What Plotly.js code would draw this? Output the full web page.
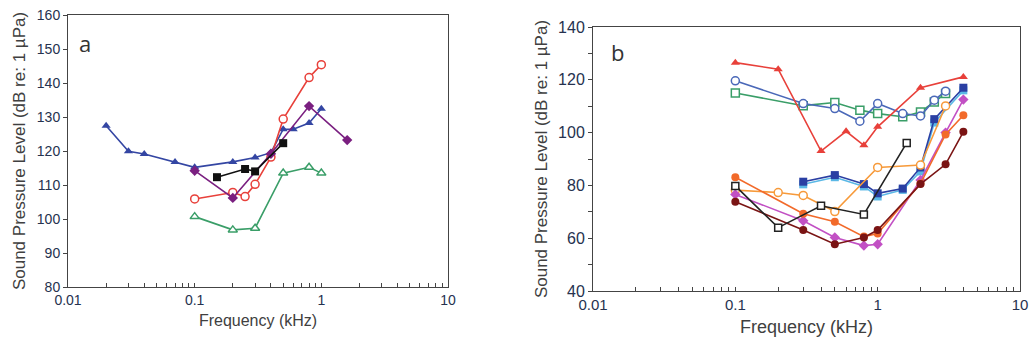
<!DOCTYPE html>
<html>
<head>
<meta charset="utf-8">
<script src="https://cdn.plot.ly/plotly-3.0.1.min.js"></script>
<style>html,body{margin:0;padding:0;background:#fff;}#chart{width:1035px;height:347px;}</style>
</head>
<body>
<div id="chart"></div>
<script>
// ---- Panel a data ----
const aBlueX = [0.02, 0.03, 0.04, 0.07, 0.1, 0.2, 0.3, 0.4, 0.5, 0.6, 0.8, 1.0];
const aBlueY = [127.4, 119.9, 119.1, 116.8, 115.2, 116.8, 118.1, 119.5, 126.4, 126.4, 128.2, 132.4];
const aRedX = [0.1, 0.2, 0.25, 0.3, 0.4, 0.5, 0.8, 1.0];
const aRedY = [105.9, 107.8, 106.6, 110.2, 118.2, 129.4, 141.6, 145.4];
const aPurpleX = [0.1, 0.2, 0.4, 0.8, 1.6];
const aPurpleY = [114.2, 106.2, 119.2, 133.2, 123.2];
const aBlackX = [0.15, 0.25, 0.3, 0.5];
const aBlackY = [112.3, 114.7, 114.0, 122.3];
const aGreenX = [0.1, 0.2, 0.3, 0.5, 0.8, 1.0];
const aGreenY = [100.7, 96.8, 97.3, 113.5, 115.2, 113.5];

// ---- Panel b data ----
const bRedX = [0.1, 0.2, 0.4, 0.6, 0.8, 1.0, 2.0, 4.0];
const bRedY = [126.5, 124.0, 93.0, 100.5, 95.2, 102.2, 117.0, 121.1];
const bBlueOpenX = [0.1, 0.3, 0.5, 0.75, 1.0, 1.5, 2.0, 2.5, 3.0];
const bBlueOpenY = [119.6, 111.0, 109.1, 104.3, 111.0, 107.2, 106.3, 112.3, 115.7];
const bGreenX = [0.1, 0.3, 0.5, 0.75, 1.0, 1.5, 2.0, 2.5, 3.0];
const bGreenY = [115.0, 110.2, 111.4, 108.5, 107.2, 106.0, 107.8, 111.6, 114.8];
const bCyanX = [0.3, 0.5, 0.8, 1.0, 1.5, 2.0, 2.5, 4.0];
const bCyanY = [80.4, 83.1, 79.6, 75.8, 78.3, 85.3, 103.8, 116.0];
const bNavyX = [0.3, 0.5, 0.8, 1.0, 1.5, 2.0, 2.5, 4.0];
const bNavyY = [81.4, 83.9, 80.5, 77.0, 78.8, 86.8, 105.1, 117.0];
const bOrangeOpenX = [0.1, 0.2, 0.3, 0.5, 1.0, 2.0, 3.0];
const bOrangeOpenY = [78.2, 77.3, 76.2, 70.1, 86.8, 87.7, 110.1];
const bOrangeX = [0.1, 0.3, 0.5, 0.8, 1.0, 2.0, 3.0, 4.0];
const bOrangeY = [83.1, 69.3, 66.2, 60.6, 61.8, 80.7, 99.3, 106.6];
const bMagentaX = [0.1, 0.3, 0.5, 0.8, 1.0, 2.0, 3.0, 4.0];
const bMagentaY = [76.6, 66.6, 60.3, 57.2, 57.7, 82.0, 100.0, 112.5];
const bMaroonX = [0.1, 0.3, 0.5, 0.8, 1.0, 2.0, 3.0, 4.0];
const bMaroonY = [73.8, 63.1, 57.7, 60.3, 63.1, 80.5, 88.0, 100.3];
const bBlackX = [0.1, 0.2, 0.4, 0.8, 1.6];
const bBlackY = [79.8, 64.0, 72.3, 69.0, 96.1];

const decadeLabels = ['0.01', '0.1', '1', '10'];
const aYTicks = [80, 90, 100, 110, 120, 130, 140, 150, 160];
const bYTicks = [40, 60, 80, 100, 120, 140];

function tr(x, y, color, symbol, ax, size, open) {
  return {
    x: x, y: y, type: 'scatter', mode: 'lines+markers',
    xaxis: ax === 'a' ? 'x' : 'x2', yaxis: ax === 'a' ? 'y' : 'y2',
    line: {color: color, width: 1.6},
    marker: {symbol: symbol, color: open ? '#ffffff' : color, size: size,
             line: {color: color, width: open ? 1.5 : 0}},
    showlegend: false, hoverinfo: 'skip', cliponaxis: false
  };
}

const data = [
  tr(aGreenX, aGreenY, '#3a9e68', 'triangle-up', 'a', 8, true),
  tr(aBlueX, aBlueY, '#3446a3', 'triangle-up', 'a', 8),
  tr(aRedX, aRedY, '#e8403a', 'circle', 'a', 8, true),
  tr(aPurpleX, aPurpleY, '#7a1f80', 'diamond', 'a', 8),
  tr(aBlackX, aBlackY, '#111111', 'square', 'a', 8),

  tr(bGreenX, bGreenY, '#3a9e68', 'square', 'b', 8, true),
  tr(bBlueOpenX, bBlueOpenY, '#4a68b8', 'circle', 'b', 8, true),
  tr(bRedX, bRedY, '#e8403a', 'triangle-up', 'b', 8),
  tr(bCyanX, bCyanY, '#5ab8e6', 'square', 'b', 8),
  tr(bNavyX, bNavyY, '#2a3fa3', 'square', 'b', 8),
  tr(bOrangeOpenX, bOrangeOpenY, '#f79a3a', 'circle', 'b', 8, true),
  tr(bMagentaX, bMagentaY, '#c250c4', 'diamond', 'b', 8),
  tr(bOrangeX, bOrangeY, '#f26a2a', 'circle', 'b', 8),
  tr(bMaroonX, bMaroonY, '#7a1414', 'circle', 'b', 8),
  tr(bBlackX, bBlackY, '#222222', 'square', 'b', 7, true)
];

// log tick values (decades + minor)
const logVals = [], logText = [];
[0.01, 0.1, 1].forEach((d, i) => {
  for (let m = 1; m <= 9; m++) {
    logVals.push(d * m);
    logText.push(m === 1 ? decadeLabels[i] : '');
  }
});
logVals.push(10); logText.push(decadeLabels[3]);

const bYVals = [], bYText = [];
for (let v = 40; v <= 140; v += 10) { bYVals.push(v); bYText.push(bYTicks.indexOf(v) >= 0 ? String(v) : ''); }

const axisLine = '#444444';
const tickCol = '#26324f';
const base = {showline: true, linecolor: axisLine, linewidth: 1, mirror: true,
  showgrid: false, zeroline: false, tickcolor: axisLine, tickwidth: 1};

const layout = {
  width: 1035, height: 347,
  margin: {l: 0, r: 0, t: 0, b: 0},
  paper_bgcolor: '#ffffff', plot_bgcolor: '#ffffff',
  font: {family: 'Liberation Sans, Arial, sans-serif', color: tickCol},
  xaxis: Object.assign({}, base, {
    domain: [68/1035, 448/1035], anchor: 'y', type: 'log', range: [-2, 1],
    tickmode: 'array', tickvals: logVals, ticktext: logText,
    ticks: 'inside', ticklen: 4, tickfont: {size: 14, color: tickCol},
    title: {text: 'Frequency (kHz)', font: {size: 16, color: '#404040'}, standoff: 8}
  }),
  yaxis: Object.assign({}, base, {
    domain: [(347-287)/347, (347-15)/347], anchor: 'x', range: [80, 160],
    tickmode: 'array', tickvals: aYTicks, ticktext: aYTicks.map(String),
    ticks: 'outside', ticklen: 4, tickfont: {size: 14, color: tickCol},
    title: {text: 'Sound Pressure Level (dB re: 1 µPa)', font: {size: 17, color: '#404040'}, standoff: 6}
  }),
  xaxis2: Object.assign({}, base, {
    domain: [593/1035, 1020/1035], anchor: 'y2', type: 'log', range: [-2, 1],
    tickmode: 'array', tickvals: logVals, ticktext: logText,
    ticks: 'inside', ticklen: 4, tickfont: {size: 15, color: tickCol},
    title: {text: 'Frequency (kHz)', font: {size: 18, color: '#404040'}, standoff: 8}
  }),
  yaxis2: Object.assign({}, base, {
    domain: [(347-291)/347, (347-27)/347], anchor: 'x2', range: [40, 140],
    tickmode: 'array', tickvals: bYVals, ticktext: bYText,
    ticks: 'outside', ticklen: 4, tickfont: {size: 16, color: tickCol},
    title: {text: 'Sound Pressure Level (dB re: 1 µPa)', font: {size: 17, color: '#404040'}, standoff: 6}
  }),
  annotations: [
    {text: 'a', x: 85, y: 347-43, xref: 'paper', yref: 'paper', showarrow: false},
    {text: 'b', x: 617, y: 347-52, xref: 'paper', yref: 'paper', showarrow: false}
  ].map(a => Object.assign(a, {x: a.x/1035, y: a.y/347, xanchor: 'center', yanchor: 'middle',
     font: {size: 22, color: '#333333', family: 'Open Sans, Liberation Sans, sans-serif'}}))
};

Plotly.newPlot('chart', data, layout, {displayModeBar: false, staticPlot: true});
</script>
</body>
</html>
